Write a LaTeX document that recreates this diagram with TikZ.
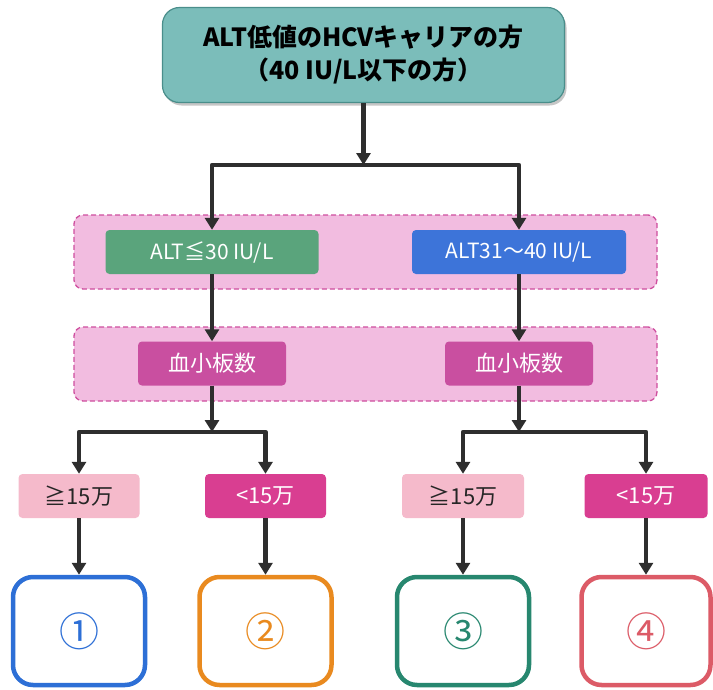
\documentclass[tikz,border=0pt]{standalone}
\usepackage{fontspec}
\setmainfont{Noto Sans CJK JP}
\usetikzlibrary{arrows.meta,positioning,shadows}
\definecolor{carrierfill}{HTML}{7BBDBA}
\definecolor{carrierline}{HTML}{4A8E8B}
\definecolor{bandfill}{HTML}{F2BCE0}
\definecolor{bandline}{HTML}{CE4E9E}
\definecolor{altgreen}{HTML}{5AA47C}
\definecolor{altblue}{HTML}{3D74D9}
\definecolor{pltpink}{HTML}{C94FA0}
\definecolor{hipink}{HTML}{F5BACB}
\definecolor{lopink}{HTML}{D93E91}
\definecolor{resblue}{HTML}{2D6FD6}
\definecolor{resorange}{HTML}{E98A1F}
\definecolor{resgreen}{HTML}{27876F}
\definecolor{resred}{HTML}{DC5B67}
\definecolor{flowgray}{HTML}{2E2E2E}
\tikzset{
  every picture/.style={line join=round, >={Triangle[width=14pt,length=12pt]}},
  flow/.style={line width=4.5pt, draw=flowgray},
  band/.style={draw=bandline, dash pattern=on 5pt off 3pt, fill=bandfill, rounded corners=9pt,
    line width=1.3pt, minimum width=583pt, minimum height=74pt},
  tag/.style={rounded corners=4pt, text=white, inner sep=0pt, minimum height=44pt},
  result/.style={draw, line width=4.5pt, rounded corners=20pt, fill=white,
    minimum width=132pt, minimum height=108pt, font=\fontsize{40}{40}\selectfont},
}

\begin{document}
\begin{tikzpicture}[x=1pt,y=-1pt]
\path[use as bounding box] (0,0) rectangle (713,689);
% start
\node[draw=carrierline, line width=1.2pt, fill=carrierfill, rounded corners=17pt,
  drop shadow={shadow xshift=2pt, shadow yshift=-3pt, opacity=0.45},
  minimum width=402pt, minimum height=95pt, align=center,
  font=\fontsize{25}{33}\selectfont\bfseries] (carrier) at (363.5,55)
  {ALT低値のHCVキャリアの方\\（40 IU/L以下の方）};
% ALT level
\node[band] (bandA) at (365.5,252) {};
\node[tag, fill=altgreen, minimum width=213pt, font=\fontsize{21}{21}\selectfont] (low) at (212,252) {ALT≦30 IU/L};
\node[tag, fill=altblue, minimum width=214pt, font=\fontsize{21}{21}\selectfont] (high) at (519,252) {ALT31〜40 IU/L};
% platelets
\node[band] (bandB) at (365.5,364) {};
\node[tag, fill=pltpink, minimum width=148pt, font=\fontsize{22}{22}\selectfont] (pltA) at (212,363.5) {血小板数};
\node[tag, fill=pltpink, minimum width=148pt, font=\fontsize{22}{22}\selectfont] (pltB) at (519,363.5) {血小板数};
% counts
\node[tag, fill=hipink, text=black!85, minimum width=121pt, font=\fontsize{22}{22}\selectfont] (geA) at (79,496) {≧15万};
\node[tag, fill=lopink, minimum width=121pt, font=\fontsize{22}{22}\selectfont] (ltA) at (265.5,496) {<15万};
\node[tag, fill=hipink, text=black!85, minimum width=122pt, font=\fontsize{22}{22}\selectfont] (geB) at (463,496) {≧15万};
\node[tag, fill=lopink, minimum width=123pt, font=\fontsize{22}{22}\selectfont] (ltB) at (646,496) {<15万};
% results
\node[result, draw=resblue, text=resblue] (r1) at (79,631) {①};
\node[result, draw=resorange, text=resorange] (r2) at (265.5,631) {②};
\node[result, draw=resgreen, text=resgreen] (r3) at (463,631) {③};
\node[result, draw=resred, text=resred, minimum width=129pt] (r4) at (646,631) {④};
% connectors
\coordinate (split) at (363.5,165);
\coordinate (forkA) at (212,432);
\coordinate (forkB) at (519,432);
\draw[flow,->] (carrier) -- (split);
\draw[flow,<->] (low) |- (split) -| (high);
\draw[flow,->] (low) -- (pltA);
\draw[flow,->] (high) -- (pltB);
\draw[flow,->] (pltA) -- (forkA);
\draw[flow,->] (pltB) -- (forkB);
\draw[flow,<->] (geA) |- (forkA) -| (ltA);
\draw[flow,<->] (geB) |- (forkB) -| (ltB);
\draw[flow,->] (geA) -- (r1);
\draw[flow,->] (ltA) -- (r2);
\draw[flow,->] (geB) -- (r3);
\draw[flow,->] (ltB) -- (r4);
\end{tikzpicture}
\end{document}
